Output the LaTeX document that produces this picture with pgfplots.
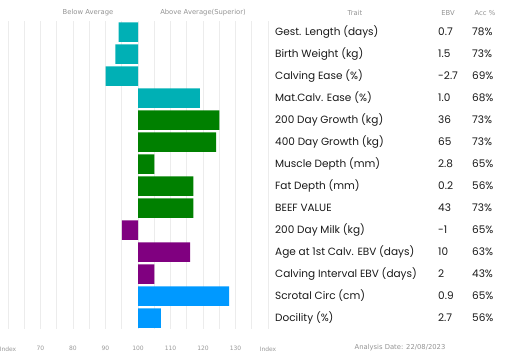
\documentclass[border=0pt]{standalone}
\usepackage{pgfplots}
\pgfplotsset{compat=1.18}
\usepackage{pgfplotstable}
\usepackage{fontspec}
\setmainfont{Poppins}
\newfontfamily\smallfont{DejaVu Sans}
\definecolor{cteal}{HTML}{00B0B5}
\definecolor{cgreen}{HTML}{008000}
\definecolor{cpurple}{HTML}{800080}
\definecolor{cblue}{HTML}{0099FF}
\definecolor{gridc}{HTML}{ECECEC}
\pgfplotstableread{
row idx
1 94
2 93
3 90
4 119
}\tealtab
\pgfplotstableread{
row idx
5 125
6 124
7 105
8 117
9 117
}\greentab
\pgfplotstableread{
row idx
10 95
11 116
12 105
}\purpletab
\pgfplotstableread{
row idx
13 128
14 107
}\bluetab
\begin{document}
\begin{tikzpicture}[x=1pt,y=1pt]
\path[use as bounding box] (0,-33) rectangle (522,329);
\begin{axis}[
  at={(8pt,0pt)}, anchor=south west,
  scale only axis, width=260pt, height=308pt,
  xmin=-40, xmax=40, ymin=0.5, ymax=14.5, y dir=reverse,
  xbar, bar width=19.5pt, bar shift=0pt,
  xtick={-40,-30,...,40},
  xticklabels={Index,70,80,90,100,110,120,130,Index},
  minor xtick={-35,-25,...,35},
  xmajorgrids, xminorgrids,
  major grid style={draw=gridc, line width=0.8pt},
  minor grid style={draw=gridc, line width=0.8pt},
  ytick=\empty,
  axis line style={draw=none},
  major tick length=0pt, minor tick length=0pt,
  xticklabel style={font=\smallfont\fontsize{6}{7}\selectfont, text=gray!80, yshift=-14pt},
  clip=false,
]
\addplot[fill=cteal, draw=none] table[x expr=\thisrow{idx}-100, y=row] {\tealtab};
\addplot[fill=cgreen, draw=none] table[x expr=\thisrow{idx}-100, y=row] {\greentab};
\addplot[fill=cpurple, draw=none] table[x expr=\thisrow{idx}-100, y=row] {\purpletab};
\addplot[fill=cblue, draw=none] table[x expr=\thisrow{idx}-100, y=row] {\bluetab};
\end{axis}
\begin{scope}[every node/.style={font=\smallfont\fontsize{6.8}{8}\selectfont, text=gray!85}]
\node at (88,316) {Below Average};
\node at (203,316) {Above Average(Superior)};
\node at (355,316) {Trait};
\node at (448,316) {EBV};
\node at (485,316) {Acc \%};
\node at (400,-19) {Analysis Date: 22/08/2023};
\end{scope}
\foreach \name/\ebv/\acc [count=\i] in {
  Gest. Length (days)/0.7/78\%,
  Birth Weight (kg)/1.5/73\%,
  Calving Ease (\%)/-2.7/69\%,
  Mat.Calv. Ease (\%)/1.0/68\%,
  200 Day Growth (kg)/36/73\%,
  400 Day Growth (kg)/65/73\%,
  Muscle Depth (mm)/2.8/65\%,
  Fat Depth (mm)/0.2/56\%,
  BEEF VALUE/43/73\%,
  200 Day Milk (kg)/-1/65\%,
  Age at 1st Calv. EBV (days)/10/63\%,
  Calving Interval EBV (days)/2/43\%,
  Scrotal Circ (cm)/0.9/65\%,
  Docility (\%)/2.7/56\%}{
  \node[anchor=west, font=\fontsize{10.5}{12}\selectfont, text=black!90, inner sep=0pt] at (275,{319-22*\i}) {\name};
  \node[anchor=west, font=\fontsize{10.5}{12}\selectfont, text=black!90, inner sep=0pt] at (438,{319-22*\i}) {\ebv};
  \node[anchor=west, font=\fontsize{10.5}{12}\selectfont, text=black!90, inner sep=0pt] at (472,{319-22*\i}) {\acc};
}
\end{tikzpicture}
\end{document}
